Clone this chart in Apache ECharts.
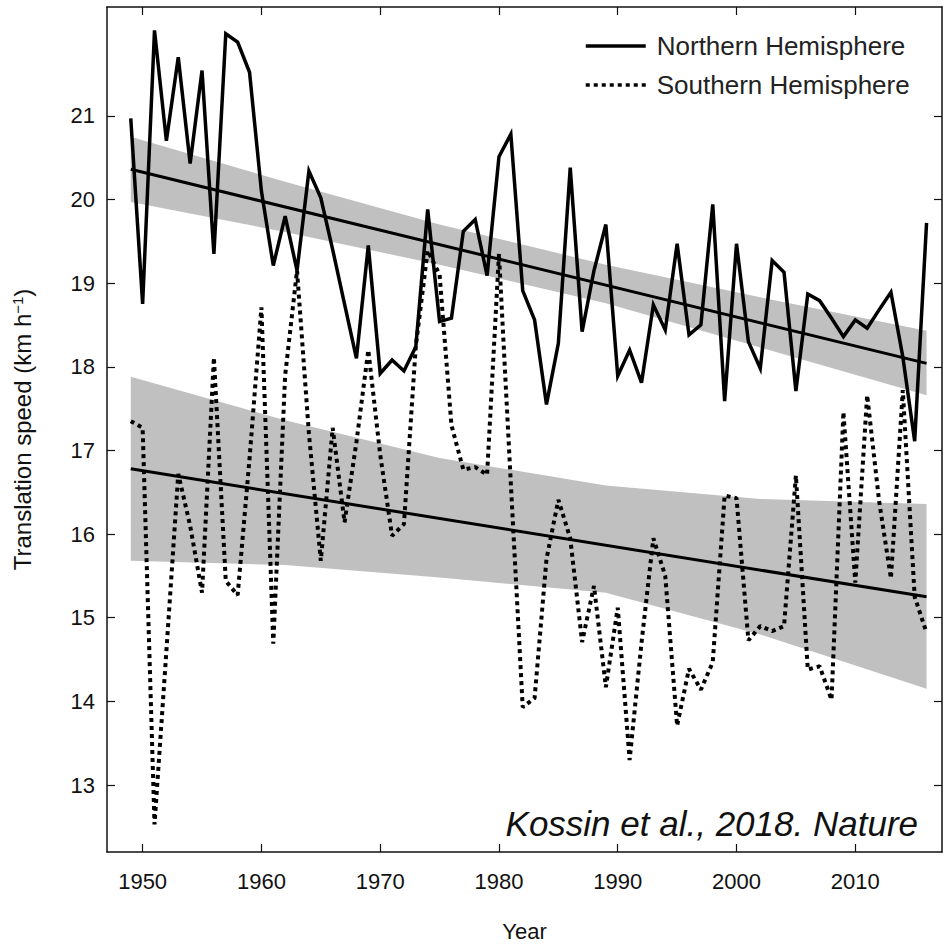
<!DOCTYPE html>
<html>
<head>
<meta charset="utf-8">
<title>Translation speed</title>
<script src="https://cdn.jsdelivr.net/npm/echarts@6/dist/echarts.min.js"></script>
<style>
  html, body { margin: 0; padding: 0; background: #fff; }
  #chart { width: 943px; height: 947px; }
</style>
</head>
<body>
<div id="chart"></div>
<script>
// annual mean translation speed (km/h), one value per year from 1949
const startYear = 1949
const northSpeed = [
  20.97, 18.75, 22.02, 20.70, 21.70, 20.43, 21.54, 19.35, 21.98, 21.88,
  21.52, 20.10, 19.21, 19.80, 19.15, 20.34, 20.02, 19.40, 18.75, 18.10,
  19.45, 17.92, 18.08, 17.95, 18.24, 19.88, 18.54, 18.58, 19.62, 19.76,
  19.09, 20.51, 20.78, 18.91, 18.56, 17.55, 18.28, 20.38, 18.42, 19.15,
  19.70, 17.89, 18.20, 17.81, 18.74, 18.44, 19.47, 18.38, 18.50, 19.94,
  17.59, 19.47, 18.30, 17.98, 19.27, 19.13, 17.71, 18.87, 18.79, 18.58,
  18.36, 18.56, 18.46, 18.68, 18.89, 18.12, 17.11, 19.72
]
const southSpeed = [
  17.35, 17.27, 12.53, 14.60, 16.72, 16.10, 15.30, 18.11, 15.44, 15.27,
  16.90, 18.71, 14.69, 17.90, 19.15, 17.20, 15.68, 17.27, 16.14, 17.10,
  18.20, 16.95, 15.98, 16.12, 18.25, 19.39, 19.10, 17.30, 16.77, 16.80,
  16.71, 19.35, 16.60, 13.93, 14.04, 15.70, 16.41, 15.95, 14.71, 15.38,
  14.17, 15.12, 13.30, 14.70, 15.95, 15.50, 13.71, 14.39, 14.14, 14.47,
  16.46, 16.43, 14.73, 14.90, 14.84, 14.90, 16.70, 14.38, 14.42, 14.02,
  17.46, 15.42, 17.66, 16.40, 15.47, 17.72, 15.25, 14.82
]

// linear trends and their confidence bands
const trendYears = [1949, 2016]
const northTrend = [20.36, 18.04]
const southTrend = [16.78, 15.25]
const bandYears = [1949, 1962, 1975, 1989, 2002, 2016]
const northUpper = [20.75, 20.21, 19.70, 19.22, 18.83, 18.43]
const northLower = [19.97, 19.61, 19.22, 18.76, 18.23, 17.66]
const southUpper = [17.88, 17.36, 16.91, 16.58, 16.42, 16.36]
const southLower = [15.68, 15.63, 15.48, 15.30, 14.80, 14.15]

const yearTicks = [1950, 1960, 1970, 1980, 1990, 2000, 2010]
const speedTicks = [13, 14, 15, 16, 17, 18, 19, 20, 21]

const chart = echarts.init(document.getElementById('chart'), null, { renderer: 'svg' })

const font = 'Liberation Sans, Arial, Helvetica, sans-serif'

function toPoints(xs, ys) {
  return ys.map((v, i) => [xs[i], v])
}

const years = northSpeed.map((_, i) => startYear + i)

// grey confidence band drawn as a polygon through the axis scales
function bandSeries(upper, lower) {
  return {
    type: 'custom',
    silent: true,
    z: 1,
    data: [[1980, 16]],
    renderItem(params, api) {
      const top = bandYears.map((x, i) => api.coord([x, upper[i]]))
      const bottom = bandYears.map((x, i) => api.coord([x, lower[i]])).reverse()
      return {
        type: 'polygon',
        shape: { points: top.concat(bottom) },
        style: { fill: '#c0c0c0' }
      }
    }
  }
}

function xAxisBase(position) {
  return {
    type: 'value',
    position: position,
    min: 1947,
    max: 2017.3,
    splitLine: { show: false },
    axisLine: { show: true, onZero: false, lineStyle: { color: '#111', width: 1.5 } },
    axisTick: { show: true, inside: true, length: 8, customValues: yearTicks, lineStyle: { color: '#111', width: 1.2 } },
    axisLabel: {
      show: position === 'bottom',
      customValues: yearTicks,
      formatter: v => String(v),
      margin: 18,
      fontSize: 22,
      color: '#111',
      fontFamily: font
    }
  }
}

function yAxisBase(position) {
  return {
    type: 'value',
    position: position,
    min: 12.2,
    max: 22.3,
    splitLine: { show: false },
    axisLine: { show: true, onZero: false, lineStyle: { color: '#111', width: 1.5 } },
    axisTick: { show: true, inside: true, length: 8, customValues: speedTicks, lineStyle: { color: '#111', width: 1.2 } },
    axisLabel: { show: position === 'left', customValues: speedTicks, margin: 12, fontSize: 22, color: '#111', fontFamily: font }
  }
}

const xBottom = xAxisBase('bottom')
xBottom.name = 'Year'
xBottom.nameLocation = 'middle'
xBottom.nameGap = 68
xBottom.nameTextStyle = { fontSize: 22, color: '#111', fontFamily: font }

const yLeft = yAxisBase('left')
yLeft.name = 'Translation speed (km h{sup|\u22121})'
yLeft.nameLocation = 'middle'
yLeft.nameGap = 72
yLeft.nameTextStyle = {
  fontSize: 24,
  color: '#111',
  fontFamily: font,
  rich: {
    sup: { fontSize: 15, color: '#111', fontFamily: font, verticalAlign: 'top', padding: [0, 0, 10, 0] }
  }
}

chart.setOption({
  backgroundColor: '#fff',
  animation: false,
  grid: { left: 107, right: 1, top: 7, bottom: 89, containLabel: false },
  legend: {
    data: ['Northern Hemisphere', 'Southern Hemisphere'],
    orient: 'vertical',
    left: 584,
    top: 33,
    padding: 0,
    itemWidth: 60,
    itemHeight: 14,
    itemGap: 13,
    itemStyle: { opacity: 0 },
    lineStyle: { width: 3.5 },
    textStyle: { fontSize: 26, color: '#222', fontFamily: font, padding: [0, 0, 0, 6] }
  },
  xAxis: [xBottom, xAxisBase('top')],
  yAxis: [yLeft, yAxisBase('right')],
  graphic: [{
    type: 'text',
    right: 25,
    top: 806,
    style: {
      text: 'Kossin et al., 2018. Nature',
      font: 'italic 35px ' + font,
      fill: '#111'
    }
  }],
  series: [
    bandSeries(northUpper, northLower),
    bandSeries(southUpper, southLower),
    {
      name: 'Northern Hemisphere',
      type: 'line',
      symbol: 'none',
      z: 4,
      data: toPoints(years, northSpeed),
      lineStyle: { color: '#000', width: 3.5, join: 'miter' },
      itemStyle: { color: '#000' }
    },
    {
      name: 'Southern Hemisphere',
      type: 'line',
      symbol: 'none',
      z: 4,
      data: toPoints(years, southSpeed),
      lineStyle: { color: '#000', width: 4, type: [4, 4] },
      itemStyle: { color: '#000' }
    },
    {
      type: 'line',
      symbol: 'none',
      silent: true,
      z: 3,
      data: toPoints(trendYears, northTrend),
      lineStyle: { color: '#000', width: 3 }
    },
    {
      type: 'line',
      symbol: 'none',
      silent: true,
      z: 3,
      data: toPoints(trendYears, southTrend),
      lineStyle: { color: '#000', width: 3 }
    }
  ]
})
</script>
</body>
</html>
